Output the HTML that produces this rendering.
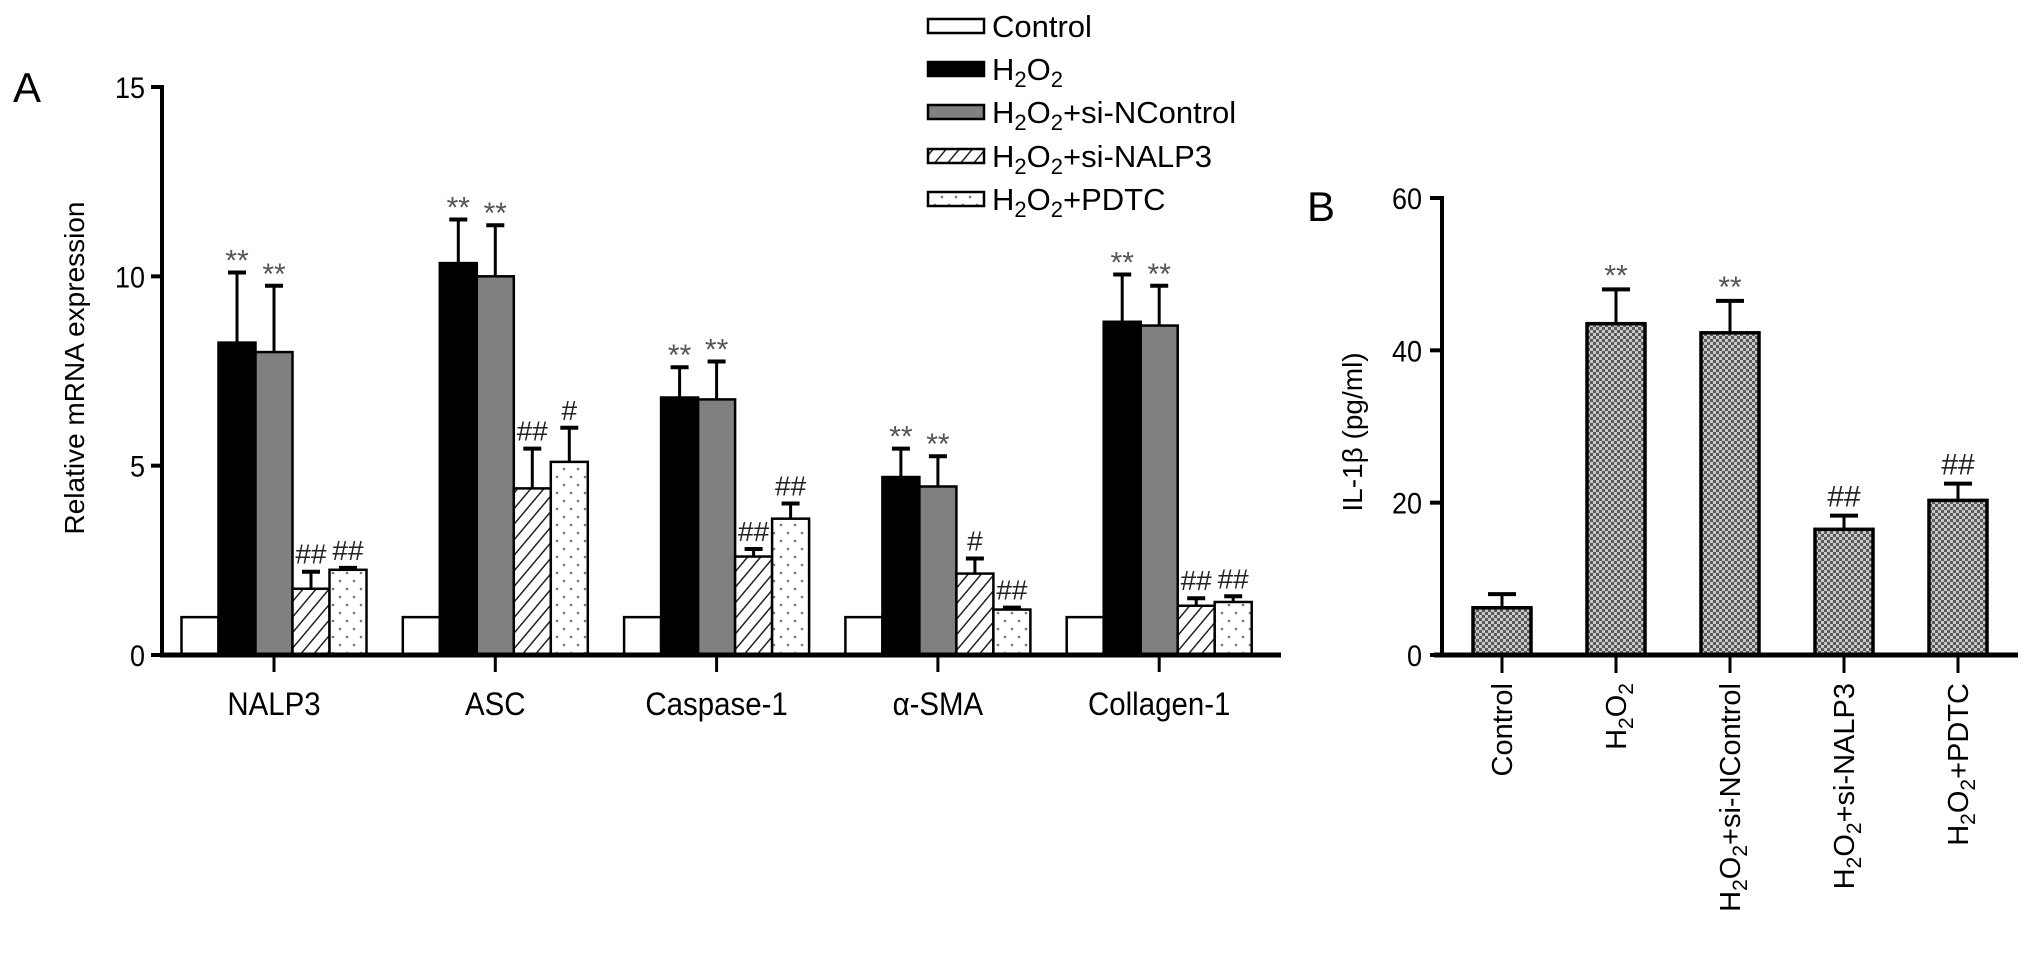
<!DOCTYPE html>
<html><head><meta charset="utf-8"><style>
html,body{margin:0;padding:0;background:#fff;}
svg{display:block;font-family:"Liberation Sans",sans-serif;}
</style></head><body>
<svg id="chart" width="2032" height="956" viewBox="0 0 2032 956" xmlns="http://www.w3.org/2000/svg">
<defs>
<pattern id="hatch" width="10" height="10" patternUnits="userSpaceOnUse" patternTransform="rotate(40)">
<rect width="10" height="10" fill="#fff"/><line x1="0" y1="0" x2="0" y2="10" stroke="#222" stroke-width="3"/>
</pattern>
<pattern id="dots" width="14" height="16" patternUnits="userSpaceOnUse">
<rect width="14" height="16" fill="#fff"/><circle cx="4" cy="5" r="1.3" fill="#777"/><circle cx="11" cy="13" r="1.3" fill="#777"/>
</pattern>
<pattern id="check" width="6" height="6" patternUnits="userSpaceOnUse">
<rect width="6" height="6" fill="#5a5a5a"/><rect x="0" y="0" width="3" height="3" fill="#c8c8c8"/><rect x="3" y="3" width="3" height="3" fill="#c8c8c8"/>
</pattern>
</defs>
<g id="pa"></g>
<g id="pb"></g>
<g id="legend"></g>
</svg>
<script>
const genes = ["NALP3","ASC","Caspase-1","\u03b1-SMA","Collagen-1"];
const ctrlVals = [1,1,1,1,1];
const h2o2Vals = [8.25,10.35,6.8,4.7,8.8];
const h2o2Err = [10.1,11.5,7.6,5.45,10.05];
const ncVals = [8.0,10.0,6.75,4.45,8.7];
const ncErr = [9.75,11.35,7.75,5.25,9.75];
const siVals = [1.75,4.4,2.6,2.15,1.3];
const siErr = [2.2,5.45,2.8,2.55,1.5];
const pdtcVals = [2.25,5.1,3.6,1.2,1.4];
const pdtcErr = [2.3,6.0,4.0,1.25,1.55];
const siMarks = ["##","##","##","#","##"];
const pdtcMarks = ["##","#","##","##","##"];
const aTicks = [0,5,10,15];

const bCats = ["Control","H2O2","H2O2+si-NControl","H2O2+si-NALP3","H2O2+PDTC"];
const bVals = [6.2,43.5,42.3,16.5,20.3];
const bErr = [8.0,48.0,46.5,18.3,22.5];
const bMarks = ["","**","**","##","##"];
const bTicks = [0,20,40,60];

const NS="http://www.w3.org/2000/svg";
function mk(tag,attrs,parent,text){const e=document.createElementNS(NS,tag);for(const k in attrs)e.setAttribute(k,attrs[k]);if(text!==undefined)e.textContent=text;parent.appendChild(e);return e;}

// Panel A
const pa=document.getElementById('pa');
const aX0=162, aY0=655, aUnit=(655-87)/15, gStart=274, gStep=221.3, bw=37;
const ay=v=>aY0-v*aUnit;
const ax=(g,s)=>gStart+g*gStep+(s-2)*bw;
const series=[
 {v:ctrlVals,e:null,fill:"#fff",n:"control"},
 {v:h2o2Vals,e:h2o2Err,fill:"#000",n:"h2o2"},
 {v:ncVals,e:ncErr,fill:"#808080",n:"h2o2-si-ncontrol"},
 {v:siVals,e:siErr,fill:"url(#hatch)",n:"h2o2-si-nalp3"},
 {v:pdtcVals,e:pdtcErr,fill:"url(#dots)",n:"h2o2-pdtc"}];
let t=mk('text',{x:13,y:102,'font-size':42},pa,"A");

series.forEach((s,si)=>{
 genes.forEach((g,gi)=>{
  const cx=ax(gi,si);
  if(s.e){
   const l=mk('line',{x1:cx,x2:cx,y1:ay(s.e[gi]),y2:ay(s.v[gi]),stroke:'#000','stroke-width':3},pa);
   
   mk('line',{x1:cx-9,x2:cx+9,y1:ay(s.e[gi]),y2:ay(s.e[gi]),stroke:'#000','stroke-width':4},pa);
  }
  const r=mk('rect',{x:cx-bw/2,y:ay(s.v[gi]),width:bw,height:s.v[gi]*aUnit,fill:s.fill,stroke:'#000','stroke-width':2.5},pa);
  
  
  let mark=null;
  if(si===1||si===2)mark="**";
  if(si===3)mark=siMarks[gi];
  if(si===4)mark=pdtcMarks[gi];
  if(mark){
   const m=mk('text',{x:cx,y:ay(s.e[gi])-(mark==="**"?2:8),'font-size':mark==="**"?30:28,'text-anchor':'middle',fill:mark==="**"?'#555':'#222'},pa,mark);
   
  }
 });
});
mk('line',{x1:aX0,x2:aX0,y1:ay(15)-2,y2:aY0,stroke:'#000','stroke-width':4},pa);
mk('line',{x1:aX0-2,x2:1281,y1:aY0,y2:aY0,stroke:'#000','stroke-width':5},pa);
aTicks.forEach(v=>{
 mk('line',{x1:aX0-11,x2:aX0,y1:ay(v),y2:ay(v),stroke:'#000','stroke-width':4},pa);
 const tl=mk('text',{x:aX0-17,y:ay(v)+11,'font-size':30,'text-anchor':'end',transform:`translate(${aX0-17},0) scale(0.9,1) translate(${-(aX0-17)},0)`},pa,v);
 
});
genes.forEach((g,gi)=>{
 const cx=gStart+gi*gStep;
 mk('line',{x1:cx,x2:cx,y1:aY0,y2:aY0+17,stroke:'#000','stroke-width':3},pa);
 const tl=mk('text',{x:cx,y:715,'font-size':32,'text-anchor':'middle',transform:`translate(${cx},0) scale(0.92,1) translate(${-cx},0)`},pa,g);
 
});
t=mk('text',{x:0,y:0,'font-size':28,'text-anchor':'middle',transform:'translate(84,368) rotate(-90)'},pa,"Relative mRNA expression");


// Legend
const lg=document.getElementById('legend');
const lgNames=[["Control"],["H","2","O","2"],["H","2","O","2","+si-NControl"],["H","2","O","2","+si-NALP3"],["H","2","O","2","+PDTC"]];
const lgY=[26,69,112,156,199];
series.forEach((s,i)=>{
 const r=mk('rect',{x:928,y:lgY[i]-7,width:56,height:14,fill:s.fill,stroke:'#000','stroke-width':2.5},lg);
 
 const tx=mk('text',{x:992,y:lgY[i]+11,'font-size':31},lg);
 
 lgNames[i].forEach(p=>{mk('tspan',p==="2"?{'font-size':22,dy:7}:{dy:tx.lastChild&&tx.lastChild.textContent==="2"?-7:0},tx,p);});
});

// Panel B
const pb=document.getElementById('pb');
const bX0=1442, bY0=655, bUnit=(655-198)/60, bStart=1502, bStep=114, bbw=58;
const by=v=>bY0-v*bUnit;
const bx=i=>bStart+i*bStep;
t=mk('text',{x:1307,y:221,'font-size':42},pb,"B");

bCats.forEach((c,i)=>{
 const cx=bx(i);
 mk('line',{x1:cx,x2:cx,y1:by(bErr[i]),y2:by(bVals[i]),stroke:'#000','stroke-width':3},pb);
 mk('line',{x1:cx-14,x2:cx+14,y1:by(bErr[i]),y2:by(bErr[i]),stroke:'#000','stroke-width':4},pb);
 const r=mk('rect',{x:cx-bbw/2,y:by(bVals[i]),width:bbw,height:bVals[i]*bUnit,fill:'url(#check)',stroke:'#000','stroke-width':3.5},pb);
 
 
 if(bMarks[i]){
  const m=mk('text',{x:cx,y:by(bErr[i])-(bMarks[i]==="**"?4:9),'font-size':30,'text-anchor':'middle',fill:bMarks[i]==="**"?'#555':'#222'},pb,bMarks[i]);
  
 }
 mk('line',{x1:cx,x2:cx,y1:bY0,y2:bY0+18,stroke:'#000','stroke-width':3},pb);
 const tl=mk('text',{x:0,y:0,'font-size':29,'text-anchor':'end',transform:`translate(${cx+10},683) rotate(-90)`},pb);
 
 const parts=c.split(/(2)/);
 let prevSub=false;
 parts.forEach(p=>{if(!p)return;if(p==="2"){mk('tspan',{'font-size':21,dy:7},tl,p);prevSub=true;}else{mk('tspan',{dy:prevSub?-7:0},tl,p);prevSub=false;}});
});
mk('line',{x1:bX0,x2:bX0,y1:by(60)-2,y2:bY0,stroke:'#000','stroke-width':4},pb);
mk('line',{x1:bX0-8,x2:2018,y1:bY0,y2:bY0,stroke:'#000','stroke-width':5},pb);
bTicks.forEach(v=>{
 mk('line',{x1:bX0-12,x2:bX0,y1:by(v),y2:by(v),stroke:'#000','stroke-width':4},pb);
 const tl=mk('text',{x:bX0-20,y:by(v)+11,'font-size':30,'text-anchor':'end',transform:`translate(${bX0-20},0) scale(0.9,1) translate(${-(bX0-20)},0)`},pb,v);
 
});
t=mk('text',{x:0,y:0,'font-size':28,'text-anchor':'middle',transform:'translate(1362,432) rotate(-90)'},pb,"IL-1\u03b2 (pg/ml)");

</script>
</body></html>
